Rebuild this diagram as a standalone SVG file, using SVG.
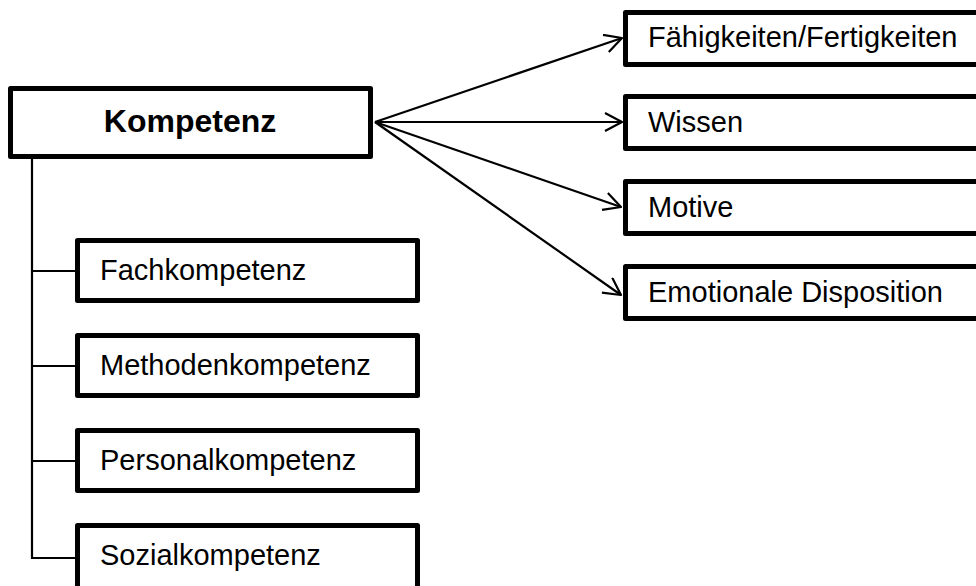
<svg xmlns="http://www.w3.org/2000/svg" width="976" height="586" viewBox="0 0 976 586">
  <style>
    .box { fill: #ffffff; stroke: #000000; stroke-width: 5; stroke-linejoin: round; }
    .lbl { font-family: "Liberation Sans", Arial, sans-serif; font-size: 29px; fill: #000000; }
    .title { font-family: "Liberation Sans", Arial, sans-serif; font-size: 32px; font-weight: bold; fill: #000000; }
    .link { fill: none; stroke: #000000; stroke-width: 2.2; }
  </style>
  <defs>
    <marker id="open-arrow" viewBox="0 0 20 20" refX="18" refY="10" markerWidth="20" markerHeight="20" markerUnits="userSpaceOnUse" orient="auto">
      <path d="M1,1 L18,10 L1,19" fill="none" stroke="#000000" stroke-width="2.2" stroke-linejoin="round"/>
    </marker>
  </defs>
  <rect width="976" height="586" fill="#ffffff"/>

  <!-- connectors -->
  <g id="connectors">
    <!-- tree on the left -->
    <path class="link" d="M32,159 V558 H75"/>
    <path class="link" d="M32,271 H75"/>
    <path class="link" d="M32,366 H75"/>
    <path class="link" d="M32,461 H75"/>
    <!-- fan of arrows on the right -->
    <line class="link" x1="375" y1="122" x2="622" y2="38" marker-end="url(#open-arrow)"/>
    <line class="link" x1="375" y1="122" x2="622" y2="122" marker-end="url(#open-arrow)"/>
    <line class="link" x1="375" y1="122" x2="621" y2="207" marker-end="url(#open-arrow)"/>
    <line class="link" x1="375" y1="122" x2="621" y2="295" marker-end="url(#open-arrow)"/>
  </g>

  <g id="kompetenz">
    <rect class="box" x="10.5" y="88.5" width="360" height="68"/>
    <text class="title" x="190" y="132" text-anchor="middle">Kompetenz</text>
  </g>

  <g id="faehigkeiten">
    <rect class="box" x="625.5" y="12.5" width="400" height="52"/>
    <text class="lbl" x="648" y="47">Fähigkeiten/Fertigkeiten</text>
  </g>
  <g id="wissen">
    <rect class="box" x="625.5" y="96.5" width="400" height="52"/>
    <text class="lbl" x="648" y="132">Wissen</text>
  </g>
  <g id="motive">
    <rect class="box" x="625.5" y="181.5" width="400" height="52"/>
    <text class="lbl" x="648" y="217">Motive</text>
  </g>
  <g id="emotionale-disposition">
    <rect class="box" x="625.5" y="266.5" width="400" height="52"/>
    <text class="lbl" x="648" y="302">Emotionale Disposition</text>
  </g>

  <g id="fachkompetenz">
    <rect class="box" x="77.5" y="240.5" width="340" height="60"/>
    <text class="lbl" x="100" y="280">Fachkompetenz</text>
  </g>
  <g id="methodenkompetenz">
    <rect class="box" x="77.5" y="335.5" width="340" height="60"/>
    <text class="lbl" x="100" y="375">Methodenkompetenz</text>
  </g>
  <g id="personalkompetenz">
    <rect class="box" x="77.5" y="430.5" width="340" height="60"/>
    <text class="lbl" x="100" y="470">Personalkompetenz</text>
  </g>
  <g id="sozialkompetenz">
    <rect class="box" x="77.5" y="525.5" width="340" height="70"/>
    <text class="lbl" x="100" y="565">Sozialkompetenz</text>
  </g>
</svg>
